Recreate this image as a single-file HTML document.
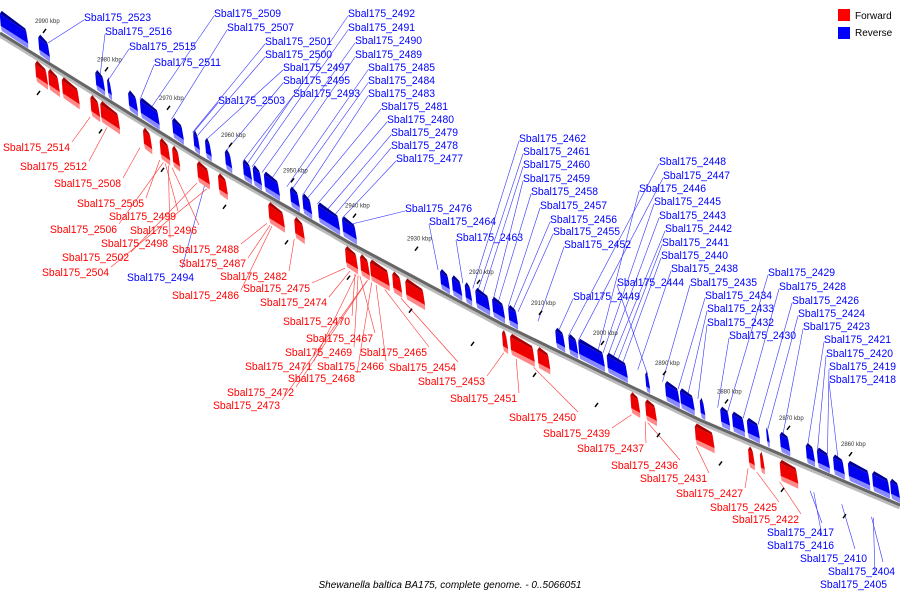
<!DOCTYPE html>
<html><head><meta charset="utf-8">
<style>
body{margin:0;background:#fff;}
svg{display:block;font-family:"Liberation Sans","DejaVu Sans",sans-serif;}
</style></head>
<body>
<svg id="chart" width="900" height="600" viewBox="0 0 900 600">
  <g id="leaders"></g>
  <g id="axis"></g>
  <g id="genes"></g>
  <g id="labels"></g>
  <g>
    <rect x="838" y="9" width="12" height="12" fill="#f00"/>
    <text x="855" y="19" font-size="10" fill="#000">Forward</text>
    <rect x="838" y="27" width="12" height="12" fill="#00f"/>
    <text x="855" y="36" font-size="10" fill="#000">Reverse</text>
  </g>
  <text x="450" y="588" font-size="10" text-anchor="middle" font-style="italic" fill="#000">Shewanella baltica BA175, complete genome. - 0..5066051</text>
</svg>
<script>
const tickKbp = [2990,2980,2970,2960,2950,2940,2930,2920,2910,2900,2890,2880,2870,2860];
const blueStart = [2997.3,2991.1,2981.9,2980.0,2976.6,2974.7,2969.5,2966.1,2964.2,2961.0,2958.1,2956.5,2954.7,2950.5,2948.5,2946.0,2942.1,2926.3,2924.4,2922.3,2920.6,2917.9,2915.3,2907.7,2905.6,2904.0,2899.4,2893.2,2890.0,2887.6,2884.4,2881.1,2879.2,2876.8,2873.7,2871.5,2867.3,2865.5,2862.9,2860.5,2856.6,2853.7];
const blueEnd   = [2992.7,2989.2,2980.3,2979.2,2975.0,2971.5,2967.6,2965.0,2963.1,2959.8,2956.6,2955.0,2952.1,2948.9,2946.9,2942.4,2939.7,2924.7,2922.7,2921.1,2918.2,2915.8,2913.7,2906.1,2904.0,2899.7,2896.0,2892.4,2887.6,2885.2,2883.5,2879.5,2877.1,2874.7,2873.1,2869.8,2865.8,2863.4,2861.0,2856.9,2853.7,2852.1];
const redStart = [2991.6,2989.5,2987.3,2982.7,2981.1,2974.2,2971.5,2969.5,2965.5,2962.1,2954.0,2949.8,2941.6,2939.2,2937.6,2934.0,2931.9,2916.3,2915.0,2910.6,2895.6,2893.2,2885.2,2876.6,2874.7,2871.5];
const redEnd   = [2989.5,2987.6,2984.4,2981.1,2977.9,2972.7,2969.8,2968.2,2963.4,2960.5,2951.3,2948.1,2939.5,2937.6,2934.4,2932.4,2928.7,2915.3,2911.0,2908.5,2894.0,2891.3,2882.0,2875.5,2873.9,2868.5];
const blueNames = ["2523","2516","2515","2511","2509","2507","2501","2500","2497","2495","2493","2503","2492","2491","2490","2489","2485","2484","2483","2481","2480","2479","2478","2477","2476","2464","2463","2462","2461","2460","2459","2458","2457","2456","2455","2452","2494","2448","2447","2446","2445","2443","2442","2441","2440","2438","2444","2435","2449","2434","2433","2432","2430","2429","2428","2426","2424","2423","2421","2420","2419","2418","2417","2416","2410","2404","2405"];
const blueLx = [84,105,129,154,214,227,265,265,283,283,293,218,348,348,355,355,368,368,368,381,387,391,391,396,405,429,456,519,523,523,523,531,540,550,553,564,127,659,663,639,654,659,665,662,661,671,617,690,573,705,707,707,729,768,779,792,798,803,824,826,829,829,767,767,800,828,820];
const blueLy = [17,31,46,62,13,27,41,54,67,80,93,100,13,27,40,54,67,80,93,106,119,132,145,158,208,221,237,138,151,164,178,191,205,219,231,244,277,161,175,188,201,215,228,242,255,268,282,282,296,295,308,322,335,272,286,300,313,326,339,353,366,379,532,545,558,571,584];
const blueTarget = [2989.5,2981.1,2979.8,2974.7,2972.8,2969.6,2966.2,2965.4,2964.1,2960.9,2958.1,2966.1,2957.4,2956.6,2955.0,2953.4,2951.0,2950.2,2948.5,2947.7,2946.1,2944.5,2943.2,2942.1,2940.5,2926.6,2922.6,2921.0,2920.2,2919.4,2917.7,2916.9,2915.3,2914.5,2913.7,2910.5,2964.2,2905.6,2904.0,2900.8,2900.0,2899.2,2898.4,2897.6,2896.8,2894.4,2892.8,2890.4,2907.2,2887.9,2886.3,2884.7,2881.5,2879.9,2877.4,2875.0,2873.4,2871.0,2867.0,2865.4,2863.8,2862.1,2866.6,2866.0,2861.5,2856.7,2856.4];
const redNames = ["2514","2512","2508","2505","2499","2506","2496","2498","2502","2504","2488","2487","2482","2486","2475","2474","2470","2467","2469","2465","2471","2466","2454","2468","2453","2472","2473","2451","2450","2439","2437","2436","2431","2427","2425","2422"];
const redLx = [3,20,54,77,109,50,130,101,62,42,172,179,220,172,243,260,283,306,285,360,245,317,389,288,418,227,213,450,509,543,577,611,640,676,710,732];
const redLy = [147,166,183,203,216,229,230,243,257,272,249,263,276,295,288,302,321,338,352,352,366,366,367,378,381,392,405,398,417,433,448,465,478,493,507,519];
const redTarget = [2982.7,2980.0,2974.7,2971.5,2970.6,2970.9,2969.5,2970.1,2965.5,2963.9,2954.2,2953.7,2949.8,2953.4,2941.6,2940.8,2940.0,2939.2,2939.5,2935.2,2939.8,2936.6,2932.6,2937.3,2916.0,2938.0,2938.0,2914.0,2911.2,2895.4,2893.2,2892.8,2885.0,2876.6,2875.2,2871.5];

const NS="http://www.w3.org/2000/svg";
function xOf(k){return 45+(2990-k)*6.2;}
const curve=[[0,33],[100,95],[200,157],[350,243],[500,323],[700,420],[900,505]];
function lineY(x){
  for(let i=0;i<curve.length-1;i++){
    const a=curve[i],b=curve[i+1];
    if(x<=b[0]||i===curve.length-2){return a[1]+(b[1]-a[1])*(x-a[0])/(b[0]-a[0]);}
  }
}
function mk(tag,attrs,parent){const e=document.createElementNS(NS,tag);for(const k in attrs)e.setAttribute(k,attrs[k]);parent.appendChild(e);return e;}

const axis=document.getElementById('axis');
let d="";
for(let x=0;x<=900;x+=10){d+=(x?"L":"M")+x+","+lineY(x).toFixed(1);}
const shadow=mk('path',{d:d,stroke:"#bbb","stroke-width":5,fill:"none",transform:"translate(0,2)"},axis);


const ax=mk('path',{d:d,stroke:"#666","stroke-width":3,fill:"none"},axis);


tickKbp.forEach(k=>{
  const x=xOf(k),y=lineY(x);
  const t=mk('text',{x:x-10,y:y-38,"font-size":6,fill:"#333"},axis);
  t.textContent=k+" kbp";
  
  
  const m=mk('line',{x1:x-2,y1:y-28,x2:x+1,y2:y-32,stroke:"#000","stroke-width":1.5},axis);
  
  
  const m2=mk('line',{x1:x-8,y1:y+34,x2:x-5,y2:y+30,stroke:"#000","stroke-width":1.5},axis);
  
  
});

const genes=document.getElementById('genes');
function block(k1,k2,blue,i){
  const x1=xOf(k1),x2=xOf(k2),y1=lineY(x1),y2=lineY(x2);
  const o1=blue?-22:6,o2=blue?-7:22;
  const g=mk('g',{},genes);
  
  
  mk('polygon',{points:`${x1+1},${y1+o2} ${x2},${y2+o2} ${x2},${y2+o2+5} ${x1+2},${y1+o2+5}`,fill:blue?"#8888ff":"#ff8888"},g);
  mk('polygon',{points:`${x1},${y1+o1+3} ${x2-2},${y2+o1+3} ${x2},${y2+o2} ${x1+1},${y1+o2}`,fill:blue?"#0000ee":"#ee0000"},g);
  mk('polygon',{points:`${x1+2},${y1+o1} ${x2-3},${y2+o1} ${x2-2},${y2+o1+3} ${x1},${y1+o1+3}`,fill:blue?"#000099":"#aa0000"},g);
}
blueStart.forEach((s,i)=>block(s,blueEnd[i],true,i));
redStart.forEach((s,i)=>block(s,redEnd[i],false,i));

const labels=document.getElementById('labels'),leaders=document.getElementById('leaders');
blueNames.forEach((n,i)=>{
  const lx=blueLx[i],ly=blueLy[i];
  const tx=xOf(blueTarget[i]);
  const below=ly>lineY(lx)+10;
  const ty=below?lineY(tx)+24:lineY(tx)-20;
  const ax0=below?lx+55:lx, ay0=below?ly-9:ly+3;
  const l=mk('line',{x1:ax0,y1:ay0,x2:tx,y2:ty,stroke:"#3333ff","stroke-width":0.6},leaders);
  
  
  const t=mk('text',{x:lx,y:ly+4,"font-size":11,fill:"#0000ff",textLength:67,lengthAdjust:"spacingAndGlyphs"},labels);
  t.textContent="Sbal175_"+n;
  
  
});
redNames.forEach((n,i)=>{
  const lx=redLx[i],ly=redLy[i];
  const tx=xOf(redTarget[i]);
  const ty=lineY(tx)+28;
  const l=mk('line',{x1:lx+69,y1:ly-5,x2:tx,y2:ty,stroke:"#ff3333","stroke-width":0.6},leaders);
  
  
  const t=mk('text',{x:lx,y:ly+4,"font-size":11,fill:"#ff0000",textLength:67,lengthAdjust:"spacingAndGlyphs"},labels);
  t.textContent="Sbal175_"+n;
  
  
});
</script>
</body></html>
